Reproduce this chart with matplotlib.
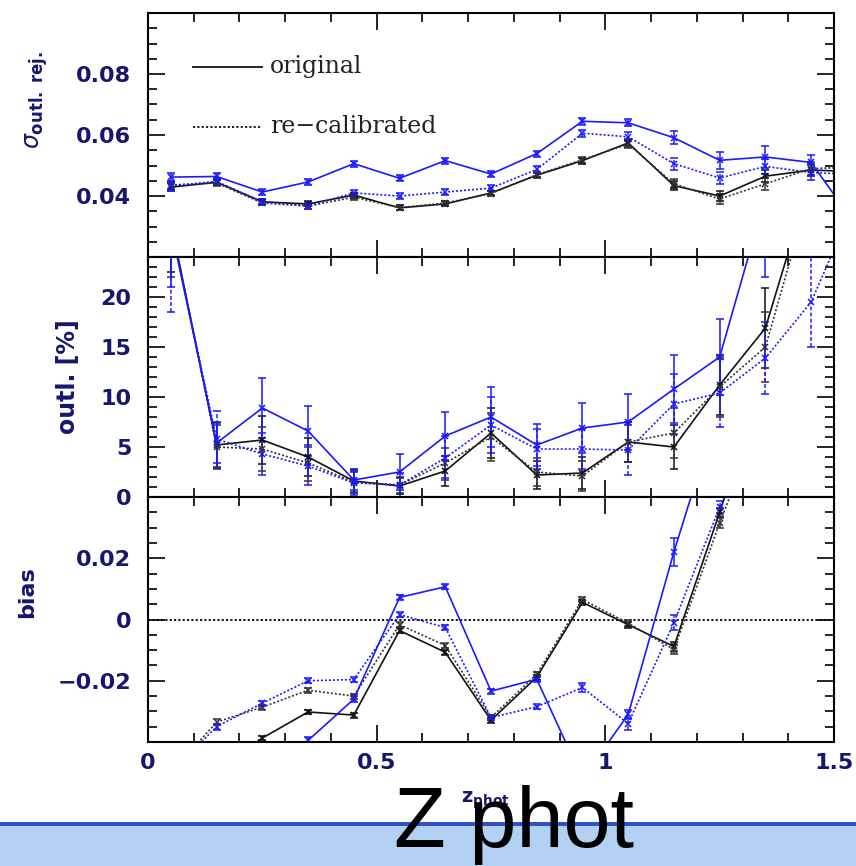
import matplotlib

matplotlib.use("Agg")
import matplotlib.pyplot as plt
from matplotlib.patches import Rectangle
from matplotlib.ticker import FixedLocator, MultipleLocator

W, H = 856, 866
NAVY = "#16166e"
BLUE = "#1a1aff"
BLACK = "#111111"
DOTS = (0, (1.2, 1.2))
ERR_DASH = (0, (2.5, 1.5))

# photometric-redshift bin centres
z_bins = [0.05, 0.15, 0.25, 0.35, 0.45, 0.55, 0.65, 0.75,
          0.85, 0.95, 1.05, 1.15, 1.25, 1.35, 1.45, 1.55]

# outlier-rejected scatter
sig_blue_orig = [0.0462, 0.0464, 0.0413, 0.0446, 0.0506, 0.0458, 0.0516, 0.0472,
                 0.0539, 0.0645, 0.0640, 0.0591, 0.0517, 0.0528, 0.0510, 0.0300]
sig_blue_orig_err = [0.0015, 0.0012, 0.001, 0.001, 0.001, 0.001, 0.001, 0.001,
                     0.001, 0.0012, 0.0012, 0.0022, 0.0027, 0.0035, 0.0025, 0.003]
sig_blue_recal = [0.0433, 0.0448, 0.0381, 0.0368, 0.0410, 0.0400, 0.0413, 0.0426,
                  0.0487, 0.0606, 0.0594, 0.0506, 0.0459, 0.0497, 0.0477, 0.0470]
sig_blue_recal_err = [0.0015, 0.001, 0.001, 0.001, 0.001, 0.001, 0.001, 0.001,
                      0.001, 0.0012, 0.0015, 0.002, 0.002, 0.0025, 0.0025, 0.003]
sig_black_orig = [0.0429, 0.0445, 0.0381, 0.0374, 0.0403, 0.0361, 0.0374, 0.0410,
                  0.0468, 0.0516, 0.0574, 0.0434, 0.0400, 0.0465, 0.0485, 0.0480]
sig_black_orig_err = [0.0012, 0.001, 0.0008, 0.0008, 0.0008, 0.0008, 0.0008, 0.0008,
                      0.0008, 0.001, 0.0012, 0.0015, 0.0015, 0.002, 0.002, 0.003]
sig_black_recal = [0.0436, 0.0443, 0.0377, 0.0367, 0.0396, 0.0362, 0.0377, 0.0408,
                   0.0470, 0.0519, 0.0570, 0.0440, 0.0390, 0.0440, 0.0490, 0.0495]
sig_black_recal_err = [0.0012, 0.001, 0.0008, 0.0008, 0.0008, 0.0008, 0.0008, 0.0008,
                       0.0008, 0.001, 0.0012, 0.0015, 0.0015, 0.002, 0.002, 0.003]

# outlier fraction [%]
out_blue_orig = [27.0, 5.4, 8.9, 6.6, 1.7, 2.5, 6.1, 8.0,
                 5.2, 6.9, 7.5, 10.8, 14.0, 30.0, 34.0, 36.0]
out_blue_orig_err = [6.0, 2.0, 3.0, 2.5, 1.0, 1.8, 2.4, 3.0,
                     2.1, 2.5, 2.8, 3.4, 3.8, 8.0, 8.0, 8.0]
out_blue_recal = [27.0, 5.8, 4.3, 3.1, 1.4, 1.2, 3.9, 7.2,
                  4.8, 4.8, 4.7, 9.3, 10.4, 13.9, 19.5, 30.0]
out_blue_recal_err = [8.5, 2.8, 2.1, 1.9, 1.2, 1.2, 2.2, 2.8,
                      2.0, 2.0, 2.5, 3.0, 3.4, 3.6, 4.5, 6.0]
out_black_orig = [27.5, 5.2, 5.7, 4.0, 1.6, 1.1, 2.6, 6.4,
                  2.2, 2.4, 5.5, 5.0, 11.2, 16.9, 32.0, 36.0]
out_black_orig_err = [5.0, 2.3, 2.4, 1.9, 1.2, 0.8, 1.5, 2.5,
                      1.4, 1.6, 2.0, 2.2, 3.0, 4.0, 6.0, 6.0]
out_black_recal = [27.5, 5.0, 4.8, 3.4, 1.5, 1.2, 3.4, 6.0,
                   2.5, 2.1, 5.5, 6.4, 11.0, 15.0, 31.0, 36.0]
out_black_recal_err = [5.5, 2.2, 2.2, 1.8, 1.0, 0.8, 1.5, 2.4,
                       1.4, 1.5, 2.0, 2.5, 3.0, 3.5, 5.0, 6.0]

# mean bias
bias_blue_orig = [-0.060, -0.055, -0.060, -0.0395, -0.0260, 0.0072, 0.0107, -0.0234,
                  -0.0195, -0.0520, -0.0310, 0.0221, 0.070, 0.080, 0.080, 0.080]
bias_blue_orig_err = [0.001, 0.001, 0.001, 0.001, 0.001, 0.0008, 0.0008, 0.0008,
                      0.0008, 0.001, 0.0015, 0.0045, 0.003, 0.003, 0.003, 0.003]
bias_blue_recal = [-0.050, -0.0350, -0.0273, -0.0200, -0.0196, 0.0016, -0.0026, -0.0320,
                   -0.0285, -0.0222, -0.0340, -0.0010, 0.0367, 0.070, 0.080, 0.080]
bias_blue_recal_err = [0.001, 0.001, 0.0008, 0.0008, 0.0008, 0.0008, 0.0008, 0.0008,
                       0.0008, 0.0015, 0.002, 0.0025, 0.002, 0.003, 0.003, 0.003]
bias_black_orig = [-0.060, -0.050, -0.0387, -0.0302, -0.0312, -0.0036, -0.0107, -0.0329,
                   -0.0188, 0.0056, -0.0017, -0.0088, 0.0350, 0.080, 0.080, 0.080]
bias_black_orig_err = [0.001, 0.001, 0.0008, 0.0008, 0.0008, 0.0008, 0.0008, 0.0008,
                       0.0008, 0.0008, 0.001, 0.0015, 0.0015, 0.003, 0.003, 0.003]
bias_black_recal = [-0.050, -0.0335, -0.0286, -0.0231, -0.0250, -0.0017, -0.0085, -0.0320,
                    -0.0179, 0.0065, -0.0012, -0.0098, 0.0315, 0.070, 0.080, 0.080]
bias_black_recal_err = [0.001, 0.001, 0.0008, 0.0008, 0.0008, 0.0008, 0.0008, 0.0008,
                        0.0008, 0.0008, 0.001, 0.0015, 0.0015, 0.003, 0.003, 0.003]

sig_ticks = [0.04, 0.06, 0.08]
sig_ticklabels = ["0.04", "0.06", "0.08"]
out_ticks = [0, 5, 10, 15, 20]
out_ticklabels = ["0", "5", "10", "15", "20"]
bias_ticks = [-0.02, 0.0, 0.02]
bias_ticklabels = ["\u22120.02", "0", "0.02"]
x_ticks = [0, 0.5, 1, 1.5]
x_ticklabels = ["0", "0.5", "1", "1.5"]


def px_rect(left, top, right, bottom):
    return [left / W, 1 - bottom / H, (right - left) / W, (bottom - top) / H]


def draw_series(ax, y, err, color, recal):
    ls = DOTS if recal else "-"
    eb = ax.errorbar(z_bins, y, yerr=err, color=color, ls=ls, lw=1.2,
                     marker="x", ms=5, mew=1.1, capsize=3, capthick=1.1,
                     elinewidth=1.1)
    if recal:
        eb[2][0].set_linestyle(ERR_DASH)


def style_axis(ax, ylim, yticks, yticklabels, yminor, show_x=False):
    ax.set_xlim(0, 1.5)
    ax.set_ylim(*ylim)
    ax.xaxis.set_major_locator(FixedLocator(x_ticks))
    ax.xaxis.set_minor_locator(MultipleLocator(0.1))
    ax.yaxis.set_major_locator(FixedLocator(yticks))
    ax.yaxis.set_minor_locator(MultipleLocator(yminor))
    ax.set_yticklabels(yticklabels)
    if show_x:
        ax.set_xticklabels(x_ticklabels)
    else:
        ax.set_xticklabels([])
    ax.tick_params(which="both", direction="in", top=True, right=True,
                   width=1.2, color="black", labelcolor=NAVY, labelsize=16)
    ax.tick_params(which="major", length=12)
    ax.tick_params(which="minor", length=6.5)
    ax.tick_params(axis="y", pad=12)
    ax.tick_params(axis="x", pad=8)
    for lab in ax.get_xticklabels() + ax.get_yticklabels():
        lab.set_fontweight("bold")
    for sp in ax.spines.values():
        sp.set_linewidth(1.5)


fig = plt.figure(figsize=(W / 100, H / 100), dpi=100)
ax_sig = fig.add_axes(px_rect(148, 13, 834, 257))
ax_out = fig.add_axes(px_rect(148, 257, 834, 497))
ax_bias = fig.add_axes(px_rect(148, 497, 834, 742))

panels = [
    (ax_sig, [sig_black_orig, sig_black_recal, sig_blue_orig, sig_blue_recal],
     [sig_black_orig_err, sig_black_recal_err, sig_blue_orig_err, sig_blue_recal_err]),
    (ax_out, [out_black_orig, out_black_recal, out_blue_orig, out_blue_recal],
     [out_black_orig_err, out_black_recal_err, out_blue_orig_err, out_blue_recal_err]),
    (ax_bias, [bias_black_orig, bias_black_recal, bias_blue_orig, bias_blue_recal],
     [bias_black_orig_err, bias_black_recal_err, bias_blue_orig_err, bias_blue_recal_err]),
]
for ax, ys, errs in panels:
    for y, err, color, recal in zip(ys, errs, [BLACK, "#333333", BLUE, BLUE],
                                    [False, True, False, True]):
        draw_series(ax, y, err, color, recal)

ax_bias.axhline(0, color="black", ls=DOTS, lw=1.3, zorder=1)

style_axis(ax_sig, (0.02, 0.1), sig_ticks, sig_ticklabels, 0.005)
style_axis(ax_out, (0, 24), out_ticks, out_ticklabels, 1)
style_axis(ax_bias, (-0.04, 0.04), bias_ticks, bias_ticklabels, 0.005, show_x=True)

# legend drawn by hand in the upper-left of the scatter panel
for yy, ls, label in [(0.779, "-", "original"), (0.533, DOTS, "re\u2212calibrated")]:
    ax_sig.plot([0.066, 0.166], [yy, yy], transform=ax_sig.transAxes,
                color=BLACK, ls=ls, lw=1.3)
    ax_sig.text(0.178, yy, label, transform=ax_sig.transAxes, va="center",
                ha="left", fontsize=17, family="DejaVu Serif", color="#222222")

# y-axis labels
fig.text(37 / W, 1 - 100 / H, r"$\sigma_{\mathbf{outl.\ rej.}}$", rotation=90,
         ha="center", va="center", color=NAVY, fontsize=17)
fig.text(68 / W, 1 - 377 / H, "outl. [%]", rotation=90, ha="center", va="center",
         color=NAVY, fontsize=17, fontweight="bold")
fig.text(27 / W, 1 - 592 / H, "bias", rotation=90, ha="center", va="center",
         color=NAVY, fontsize=16, fontweight="bold")

# footer band with the large axis caption
fig.add_artist(Rectangle((0, 0), 1, 1 - 822 / H, transform=fig.transFigure,
                         facecolor="#b2d0f1", edgecolor="none", zorder=0))
fig.add_artist(Rectangle((0, 1 - 826 / H), 1, 4 / H, transform=fig.transFigure,
                         facecolor="#3050c8", edgecolor="none", zorder=1))
fig.text(485 / W, 1 - 800 / H, r"$\mathbf{z}_{\mathbf{phot}}$", ha="center",
         va="center", color=NAVY, fontsize=14, zorder=2)
fig.text(514 / W, 1 - 847 / H, "Z phot", ha="center", va="baseline",
         fontsize=61, family="Liberation Sans", color="black", zorder=3)

fig.savefig("out.png", dpi=100)
